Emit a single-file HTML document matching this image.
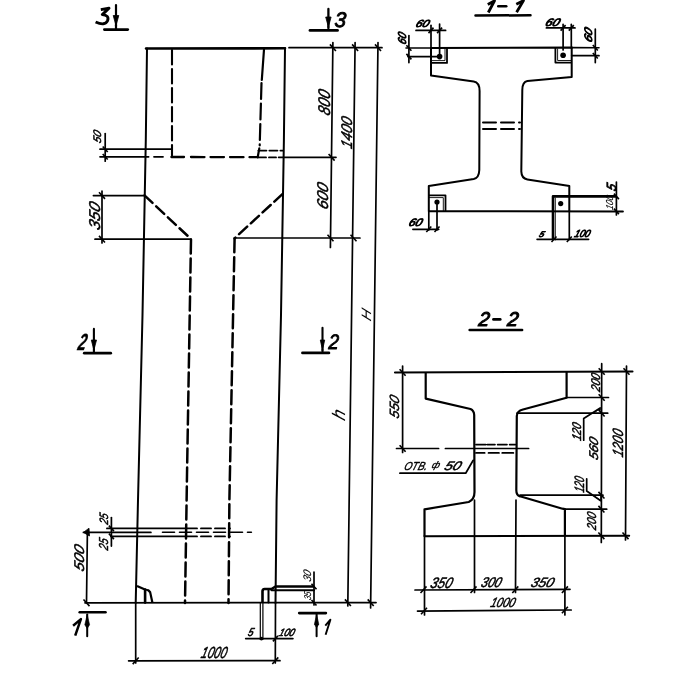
<!DOCTYPE html>
<html><head><meta charset="utf-8"><style>
html,body{margin:0;padding:0;background:#fff;width:700px;height:700px;overflow:hidden}
svg{display:block;will-change:transform}
text{font-family:"Liberation Sans",sans-serif;font-style:italic;fill:#000;stroke:none}
</style></head><body>
<svg width="700" height="700" viewBox="0 0 700 700">
<g fill="none" stroke="#000" stroke-linejoin="round">
<path d="M146,48.5 L285,48.3" stroke-width="2.6" stroke-linecap="round"/>
<path d="M147,48.5 L145.8,140 L142.5,315 L138,500 L135.7,603" stroke-width="2.0" stroke-linecap="round"/>
<path d="M135.7,603 L135.7,663" stroke-width="1.7" stroke-linecap="round"/>
<path d="M285,48.3 L283.9,140 L281,315 L276.6,500 L275.5,603" stroke-width="2.0" stroke-linecap="round"/>
<path d="M275.5,603 L275.3,663" stroke-width="1.7" stroke-linecap="round"/>
<path d="M85,602.8 L376,602.6" stroke-width="1.8" stroke-linecap="round"/>
<path d="M172,50 L172,155.5" stroke-width="2.1" stroke-dasharray="14.5 4.5" stroke-linecap="round"/>
<path d="M264,49.5 L261.8,80" stroke-width="2.2" stroke-linecap="round"/>
<path d="M261.5,83 L259.7,145.4" stroke-width="2.2" stroke-dasharray="16 4.5" stroke-linecap="round"/>
<path d="M259.3,148.4 L257.7,157.3" stroke-width="2.2" stroke-linecap="round"/>
<path d="M171.4,157 L184,157" stroke-width="2.3" stroke-linecap="round"/>
<path d="M191,157 L257,157.2" stroke-width="2.3" stroke-dasharray="13.5 6" stroke-linecap="round"/>
<path d="M154,156.8 L163,156.8" stroke-width="1.8" stroke-linecap="round"/>
<path d="M100,149.2 L172,149.2" stroke-width="1.7" stroke-linecap="round"/>
<path d="M100,156.8 L148.6,156.8" stroke-width="1.7" stroke-linecap="round"/>
<path d="M258.4,150.6 L283,150.6" stroke-width="1.9" stroke-dasharray="8 3" stroke-linecap="round"/>
<path d="M258,157.4 L276,157.4" stroke-width="1.9" stroke-dasharray="8 3" stroke-linecap="round"/>
<path d="M278.6,157.3 L336,157.3" stroke-width="1.7" stroke-linecap="round"/>
<path d="M105.2,133.6 L105.2,161.2" stroke-width="1.7" stroke-linecap="round"/>
<path d="M102.7,146.45 L107.7,151.95" stroke-width="1.6"/>
<path d="M102.7,154.05 L107.7,159.55" stroke-width="1.6"/>
<path d="M144.5,195.4 L191,239" stroke-width="2.5" stroke-dasharray="11 5" stroke-linecap="round"/>
<path d="M191,239.5 L187,475 L185,603" stroke-width="2.5" stroke-dasharray="14 5" stroke-linecap="round"/>
<path d="M282.4,194.1 L234.6,238.3" stroke-width="2.5" stroke-dasharray="11 5" stroke-linecap="round"/>
<path d="M234.6,238.3 L229.4,500 L228.5,603" stroke-width="2.5" stroke-dasharray="14 5" stroke-linecap="round"/>
<path d="M93.4,195.6 L145,195.6" stroke-width="1.7" stroke-linecap="round"/>
<path d="M95,239.2 L191,239.2" stroke-width="1.7" stroke-linecap="round"/>
<path d="M102,191 L102,243" stroke-width="1.7" stroke-linecap="round"/>
<path d="M99.0,192.29999999999998 L105.0,198.9" stroke-width="1.6"/>
<path d="M99.0,235.89999999999998 L105.0,242.5" stroke-width="1.6"/>
<path d="M235,238 L360,238" stroke-width="1.7" stroke-linecap="round"/>
<path d="M289,47.7 L382,47.7" stroke-width="1.7" stroke-linecap="round"/>
<path d="M332.9,42.6 L330.4,247.5" stroke-width="1.7" stroke-linecap="round"/>
<path d="M355.1,42.6 L347.8,606" stroke-width="1.7" stroke-linecap="round"/>
<path d="M378,42.6 L370.6,608" stroke-width="1.7" stroke-linecap="round"/>
<path d="M329.9,44.400000000000006 L335.9,51.0" stroke-width="1.6"/>
<path d="M352.1,44.400000000000006 L358.1,51.0" stroke-width="1.6"/>
<path d="M375.0,44.400000000000006 L381.0,51.0" stroke-width="1.6"/>
<path d="M328.6,154.0 L334.6,160.60000000000002" stroke-width="1.6"/>
<path d="M327.5,234.7 L333.5,241.3" stroke-width="1.6"/>
<path d="M350.5,234.7 L356.5,241.3" stroke-width="1.6"/>
<path d="M344.9,599.4000000000001 L350.9,606.0" stroke-width="1.6"/>
<path d="M367.7,599.4000000000001 L373.7,606.0" stroke-width="1.6"/>
<path d="M100.8,9.6 L109,8.2 L102.3,14.6 Q109.5,15.2 107.6,20.6 Q105,26.3 95.6,22" stroke-width="2.9"/>
<path d="M116,5.1 L116,25.5" stroke-width="2.2" stroke-linecap="round"/>
<path d="M113.2,15.5 L118.8,15.5 L116,25.5 Z" fill="#000" stroke-width="0.8"/>
<path d="M116,25.5 L116,29.6" stroke-width="2.2" stroke-linecap="round"/>
<path d="M104.3,29.6 L127.8,29.6" stroke-width="2.6" stroke-linecap="round"/>
<path d="M328.4,8.9 L328.4,27" stroke-width="2.3" stroke-linecap="round"/>
<path d="M325.7,17 L331.09999999999997,17 L328.4,27 Z" fill="#000" stroke-width="0.8"/>
<path d="M328.4,27 L328.4,30" stroke-width="2.1" stroke-linecap="round"/>
<path d="M310,30.4 L337.5,30.4" stroke-width="2.8" stroke-linecap="round"/>
<path d="M93.9,328.9 L93.9,350" stroke-width="2.1" stroke-linecap="round"/>
<path d="M91.30000000000001,340 L96.5,340 L93.9,350 Z" fill="#000" stroke-width="0.8"/>
<path d="M93.9,350 L93.9,352.9" stroke-width="2.1" stroke-linecap="round"/>
<path d="M84.3,353.2 L110.7,353.2" stroke-width="2.8" stroke-linecap="round"/>
<path d="M322.5,327.9 L322.5,350" stroke-width="2.1" stroke-linecap="round"/>
<path d="M320.3,340 L324.7,340 L322.5,350 Z" fill="#000" stroke-width="0.8"/>
<path d="M322.5,350 L322.5,352.1" stroke-width="2.1" stroke-linecap="round"/>
<path d="M302.5,352.9 L328.9,352.9" stroke-width="2.8" stroke-linecap="round"/>
<path d="M79.7,612.2 L105.5,612.2" stroke-width="2.6" stroke-linecap="round"/>
<path d="M87.2,614.6 L87.2,636.2" stroke-width="2.0" stroke-linecap="round"/>
<path d="M87.2,614.5 L89.6,624.8 L87.2,628.5 L84.8,624.8 Z" fill="#000" stroke-width="0.6"/>
<path d="M299.2,613.1 L325.9,613.1" stroke-width="2.6" stroke-linecap="round"/>
<path d="M316.6,614.6 L316.6,636.2" stroke-width="2.0" stroke-linecap="round"/>
<path d="M316.6,614.5 L318.8,624.2 L316.6,627.8 L314.4,624.2 Z" fill="#000" stroke-width="0.6"/>
<path d="M73.1,625.7 L80.9,619.1 L75.2,635.6" stroke-width="2.5"/>
<path d="M325.3,625.7 L330.4,619.7 L325.6,634.7" stroke-width="1.9"/>
<path d="M87.4,531.5 L86.5,603" stroke-width="1.7" stroke-linecap="round"/>
<path d="M83.4,532.4 L89,528.2 L89.5,536 Z" fill="#000" stroke-width="0.8"/>
<path d="M83.5,599.5 L89.5,606.0999999999999" stroke-width="1.6"/>
<path d="M83.4,532.4 L150.9,532.4" stroke-width="1.7" stroke-linecap="round"/>
<path d="M162.5,532.3 L251.4,532.3" stroke-width="1.6" stroke-dasharray="12 5" stroke-linecap="round"/>
<path d="M106.9,528.4 L185,528.4" stroke-width="1.7" stroke-linecap="round"/>
<path d="M187,528.4 L230,528.4" stroke-width="1.9" stroke-dasharray="10 4" stroke-linecap="round"/>
<path d="M110.9,536.4 L185,536.4" stroke-width="1.7" stroke-linecap="round"/>
<path d="M187,536.4 L230,536.4" stroke-width="1.9" stroke-dasharray="10 4" stroke-linecap="round"/>
<path d="M111.4,517.6 L111.4,546.1" stroke-width="1.7" stroke-linecap="round"/>
<path d="M108.9,525.65 L113.9,531.15" stroke-width="1.6"/>
<path d="M108.9,533.65 L113.9,539.15" stroke-width="1.6"/>
<path d="M137,585.9 L144.4,589.3 Q147,590 148.4,590.4 L150.1,592.1 L152.4,602.6" stroke-width="2.2"/>
<path d="M145.1,589.5 L145.1,602.6" stroke-width="2.6" stroke-linecap="round"/>
<path d="M262.5,602.6 L262.5,591 Q262.8,589 264.5,589 L271.5,589 L275.5,586.5 L314,586.5" stroke-width="2.6"/>
<path d="M271.5,590.2 L314,590.2" stroke-width="2.0" stroke-linecap="round"/>
<path d="M268.5,590 L268.5,602.6" stroke-width="2.0" stroke-linecap="round"/>
<path d="M314,572 L314,605" stroke-width="1.7" stroke-linecap="round"/>
<path d="M311.5,583.75 L316.5,589.25" stroke-width="1.6"/>
<path d="M311.5,599.95 L316.5,605.45" stroke-width="1.6"/>
<path d="M260.3,603 L260.3,639.3" stroke-width="1.2" stroke-linecap="round"/>
<path d="M262.9,603 L262.9,639.3" stroke-width="1.2" stroke-linecap="round"/>
<path d="M245.7,638.6 L292.9,638.6" stroke-width="1.7" stroke-linecap="round"/>
<circle cx="261.4" cy="638.6" r="1.9" fill="#000" stroke="none"/>
<path d="M272.9,641.35 L277.9,635.85" stroke-width="1.6"/>
<path d="M128.6,660.8 L280,660.7" stroke-width="1.7" stroke-linecap="round"/>
<path d="M132.7,664.0999999999999 L138.7,657.5" stroke-width="1.6"/>
<path d="M272.3,664.0 L278.3,657.4000000000001" stroke-width="1.6"/>
<path d="M487.8,4.5 L494.5,0.8 L488.3,12.5" stroke-width="2.8"/>
<path d="M498.3,6.2 L506.2,6.2" stroke-width="2.6" stroke-linecap="round"/>
<path d="M516.3,4.3 L523.5,0.6 L516.6,12.2" stroke-width="2.8"/>
<path d="M475.5,15.5 L530.5,15.3" stroke-width="2.5" stroke-linecap="round"/>
<path d="M406,48 L431,48" stroke-width="1.6" stroke-linecap="round"/>
<path d="M431,48 L572,47.6" stroke-width="2.1" stroke-linecap="round"/>
<path d="M572,47.6 L599,47.7" stroke-width="1.6" stroke-linecap="round"/>
<path d="M431,48 L431,75.5 L473.7,81.6 Q479.5,82.5 479.6,91 L479.3,170 Q479,178 473.7,179 L428.8,186 L428.8,211" stroke-width="2.0"/>
<path d="M571.7,47.6 L571.7,77 L527.4,81 Q522.3,82 522.3,90 L521.3,171.4 Q521.5,178.5 527.4,179.4 L567.9,185.7 L569.3,186 L569.3,211.4" stroke-width="2.0"/>
<path d="M428.8,211.2 L622.9,211.4" stroke-width="2.0" stroke-linecap="round"/>
<path d="M483,122.5 L520,122.5" stroke-width="2.0" stroke-dasharray="13 5" stroke-linecap="round"/>
<path d="M483,129 L520,129" stroke-width="2.0" stroke-dasharray="13 5" stroke-linecap="round"/>
<path d="M431.8,62.9 L447,62.9 L447,48" stroke-width="1.8"/>
<path d="M432,60.6 L445,60.6 L445,48" stroke-width="0.9"/>
<path d="M555.4,48 L555.4,62.6 L571.5,62.6" stroke-width="1.8"/>
<path d="M557.6,48.5 L557.6,60.5 L571.5,60.5" stroke-width="0.9"/>
<circle cx="439.6" cy="56.6" r="2.8" fill="#000" stroke="none"/>
<circle cx="563.1" cy="55.3" r="2.8" fill="#000" stroke="none"/>
<path d="M407.9,56.6 L439.6,56.6" stroke-width="1.7" stroke-linecap="round"/>
<path d="M571.7,55.7 L599,55.7" stroke-width="1.7" stroke-linecap="round"/>
<path d="M428.8,195.3 L445.5,195.3 L445.5,211" stroke-width="1.8"/>
<path d="M429,197.6 L443.3,197.6 L443.3,211" stroke-width="0.9"/>
<path d="M553,240 L553,196.4 L617,196.4" stroke-width="2.6"/>
<path d="M555.3,198 L555.3,240" stroke-width="0.9" stroke-linecap="round"/>
<circle cx="437" cy="202" r="2.6" fill="#000" stroke="none"/>
<circle cx="560.7" cy="203.6" r="2.6" fill="#000" stroke="none"/>
<path d="M416,30.4 L445.6,30.4" stroke-width="1.7" stroke-linecap="round"/>
<path d="M431,25.3 L431,48" stroke-width="1.7" stroke-linecap="round"/>
<path d="M439.6,24 L439.6,56" stroke-width="1.7" stroke-linecap="round"/>
<path d="M428.5,33.15 L433.5,27.65" stroke-width="1.6"/>
<path d="M437.1,33.15 L442.1,27.65" stroke-width="1.6"/>
<path d="M408.9,35.6 L408.9,62.6" stroke-width="1.7" stroke-linecap="round"/>
<path d="M406.4,45.25 L411.4,50.75" stroke-width="1.6"/>
<path d="M406.4,53.85 L411.4,59.35" stroke-width="1.6"/>
<path d="M546.4,27.9 L575,27.9" stroke-width="1.7" stroke-linecap="round"/>
<path d="M563.1,24.4 L563.1,50" stroke-width="1.7" stroke-linecap="round"/>
<path d="M571.3,24.4 L571.3,48" stroke-width="1.7" stroke-linecap="round"/>
<path d="M560.6,30.65 L565.6,25.15" stroke-width="1.6"/>
<path d="M568.8,30.65 L573.8,25.15" stroke-width="1.6"/>
<path d="M595.3,29.1 L595.3,62.6" stroke-width="1.7" stroke-linecap="round"/>
<path d="M592.8,44.95 L597.8,50.45" stroke-width="1.6"/>
<path d="M592.8,52.95 L597.8,58.45" stroke-width="1.6"/>
<path d="M428.8,211 L428.8,230" stroke-width="1.7" stroke-linecap="round"/>
<path d="M437,202 L437,230" stroke-width="1.7" stroke-linecap="round"/>
<path d="M412.9,229.3 L438.7,229.3" stroke-width="1.7" stroke-linecap="round"/>
<path d="M426.3,232.05 L431.3,226.55" stroke-width="1.6"/>
<path d="M434.5,232.05 L439.5,226.55" stroke-width="1.6"/>
<path d="M569.3,211 L569.3,239.3" stroke-width="1.7" stroke-linecap="round"/>
<path d="M537.1,239.3 L588.6,239.3" stroke-width="1.7" stroke-linecap="round"/>
<path d="M551.5,242.05 L556.5,236.55" stroke-width="1.6"/>
<path d="M566.8,242.05 L571.8,236.55" stroke-width="1.6"/>
<path d="M616.4,182 L616.4,215" stroke-width="1.7" stroke-linecap="round"/>
<path d="M613.9,193.65 L618.9,199.15" stroke-width="1.6"/>
<path d="M613.9,208.65 L618.9,214.15" stroke-width="1.6"/>
<path d="M469.6,330 L522.1,330" stroke-width="2.5" stroke-linecap="round"/>
<path d="M395,372.5 L632.5,371.5" stroke-width="2.1" stroke-linecap="round"/>
<path d="M425.7,372.5 L425.7,398.6 L470.5,409 Q474,410.5 474.2,415 L474.5,492 Q474.5,499.5 468.7,502 L424.5,509.3 L424.5,536.3" stroke-width="2.2"/>
<path d="M566.6,371.5 L566.6,397.7 L523,409.5 Q517,411 516.8,416 L516.3,490 Q516.3,495.5 520,496.3 L562.5,508.7 L564.9,509.2 L564.9,535.8" stroke-width="2.2"/>
<path d="M424.5,536.2 L629.2,535.8" stroke-width="2.0" stroke-linecap="round"/>
<path d="M476,444.6 L515.4,444.6" stroke-width="1.9" stroke-dasharray="9.7 1.7 7.5 2.8 9.2 2.8" stroke-linecap="round"/>
<path d="M476,452.9 L515.4,452.9" stroke-width="1.9" stroke-dasharray="8.6 4 10.3 3.4 11" stroke-linecap="round"/>
<path d="M402.6,366 L402.6,452.5" stroke-width="1.7" stroke-linecap="round"/>
<path d="M399.6,369.2 L405.6,375.8" stroke-width="1.6"/>
<path d="M399.6,445.2 L405.6,451.8" stroke-width="1.6"/>
<path d="M396.5,448.5 L438.6,448.5" stroke-width="1.7" stroke-linecap="round"/>
<path d="M445.4,448.5 L528.6,448.5" stroke-width="1.7" stroke-linecap="round"/>
<path d="M399.9,473.2 L465.7,473.2 L473.2,460.3" stroke-width="1.7" stroke-linecap="round"/>
<path d="M566.6,397.5 L608.5,397.5" stroke-width="1.7" stroke-linecap="round"/>
<path d="M517,413.2 L607.7,413.2" stroke-width="1.7" stroke-linecap="round"/>
<path d="M520,495.2 L603,495.2" stroke-width="1.7" stroke-linecap="round"/>
<path d="M564.9,509.2 L606.7,509.2" stroke-width="1.7" stroke-linecap="round"/>
<path d="M601.7,363.7 L601.3,542.5" stroke-width="1.7" stroke-linecap="round"/>
<path d="M626.5,366 L625.5,540" stroke-width="1.7" stroke-linecap="round"/>
<path d="M598.701,368.2 L604.701,374.8" stroke-width="1.6"/>
<path d="M598.649,394.2 L604.649,400.8" stroke-width="1.6"/>
<path d="M598.6176,409.9 L604.6176,416.5" stroke-width="1.6"/>
<path d="M598.4536,491.9 L604.4536,498.5" stroke-width="1.6"/>
<path d="M598.4256,505.9 L604.4256,512.5" stroke-width="1.6"/>
<path d="M598.3724000000001,532.5 L604.3724000000001,539.0999999999999" stroke-width="1.6"/>
<path d="M623.5,368.2 L629.5,374.8" stroke-width="1.6"/>
<path d="M622.5,532.5 L628.5,539.0999999999999" stroke-width="1.6"/>
<path d="M583.7,440.2 L583.7,418.5 L600.2,408" stroke-width="1.7" stroke-linecap="round"/>
<path d="M594,413 Q598,409 601,409 L601,413" stroke-width="1.0"/>
<path d="M586.7,478.8 L586.7,491 L600.7,500.7" stroke-width="1.7" stroke-linecap="round"/>
<path d="M594,496 L600.7,500.7 L600.7,495.5" stroke-width="1.0"/>
<path d="M424.5,536 L424.5,615" stroke-width="1.7" stroke-linecap="round"/>
<path d="M474.5,500 L474.5,592.5" stroke-width="1.7" stroke-linecap="round"/>
<path d="M516,500 L515.5,592.5" stroke-width="1.7" stroke-linecap="round"/>
<path d="M564.9,535 L564.9,615" stroke-width="1.7" stroke-linecap="round"/>
<path d="M415,590 L570,589.3" stroke-width="1.7" stroke-linecap="round"/>
<path d="M417.5,611.1 L571.2,610" stroke-width="1.7" stroke-linecap="round"/>
<path d="M420.5,593.0 L426.5,586.4000000000001" stroke-width="1.6"/>
<path d="M470.5,593.0 L476.5,586.4000000000001" stroke-width="1.6"/>
<path d="M512.3,593.0 L518.3,586.4000000000001" stroke-width="1.6"/>
<path d="M561.9,593.0 L567.9,586.4000000000001" stroke-width="1.6"/>
<path d="M421.0,614.3 L427.0,607.7" stroke-width="1.6"/>
<path d="M561.9,613.3 L567.9,606.7" stroke-width="1.6"/>
<path d="M493.5,319.4 L500.2,319.4" stroke-width="2.8" stroke-linecap="round"/>
<text transform="translate(334.18,26.59) scale(0.973,1) skewX(-4)" font-size="21.13" font-weight="normal" style="stroke:#000;stroke-width:0.900px">3</text>
<text transform="translate(101.09,143.87) rotate(-90) scale(0.992,1) skewX(-20)" font-size="10.99" font-weight="normal" style="stroke:#000;stroke-width:0.500px">50</text>
<text transform="translate(330.33,116.18) rotate(-90) scale(0.869,1) skewX(-20)" font-size="16.90" font-weight="normal" style="stroke:#000;stroke-width:0.500px">800</text>
<text transform="translate(352.35,149.42) rotate(-90) scale(0.895,1) skewX(-20)" font-size="15.49" font-weight="normal" style="stroke:#000;stroke-width:0.500px">1400</text>
<text transform="translate(328.24,210.24) rotate(-90) scale(0.980,1) skewX(-20)" font-size="15.63" font-weight="normal" style="stroke:#000;stroke-width:0.500px">600</text>
<text transform="translate(99.54,230.88) rotate(-90) scale(1.023,1) skewX(-20)" font-size="15.63" font-weight="normal" style="stroke:#000;stroke-width:0.500px">350</text>
<text transform="translate(370.50,321.85) rotate(-90) scale(1.105,1) skewX(-20)" font-size="13.48" font-weight="normal" style="stroke:#000;stroke-width:0.100px">H</text>
<text transform="translate(344.50,421.14) rotate(-90) scale(0.946,1) skewX(-20)" font-size="18.06" font-weight="normal" style="stroke:#000;stroke-width:0.100px">h</text>
<text transform="translate(76.95,350.00) scale(0.623,1) skewX(-20)" font-size="23.43" font-weight="bold" style="stroke:#000;stroke-width:0.400px">2</text>
<text transform="translate(328.20,349.30) scale(0.878,1) skewX(-4)" font-size="21.00" font-weight="normal" style="stroke:#000;stroke-width:0.900px">2</text>
<text transform="translate(108.48,525.00) rotate(-90) scale(0.795,1) skewX(-20)" font-size="12.11" font-weight="normal" style="stroke:#000;stroke-width:0.500px">25</text>
<text transform="translate(108.47,550.70) rotate(-90) scale(0.777,1) skewX(-20)" font-size="12.96" font-weight="normal" style="stroke:#000;stroke-width:0.500px">25</text>
<text transform="translate(83.86,572.22) rotate(-90) scale(1.083,1) skewX(-20)" font-size="14.08" font-weight="normal" style="stroke:#000;stroke-width:0.500px">500</text>
<text transform="translate(247.23,636.19) scale(0.839,1) skewX(-20)" font-size="11.43" font-weight="normal" style="stroke:#000;stroke-width:0.700px">5</text>
<text transform="translate(278.22,636.19) scale(0.884,1) skewX(-20)" font-size="10.56" font-weight="normal" style="stroke:#000;stroke-width:0.600px">100</text>
<text transform="translate(200.36,658.04) scale(0.712,1) skewX(-20)" font-size="16.06" font-weight="normal" style="stroke:#000;stroke-width:0.500px">1000</text>
<text transform="translate(311.29,582.19) rotate(-90) scale(0.903,1) skewX(-20)" font-size="10.99" font-weight="normal" style="stroke:#000;stroke-width:0.100px">30</text>
<text transform="translate(310.60,600.58) rotate(-90) scale(0.727,1) skewX(-20)" font-size="10.00" font-weight="normal" style="stroke:#000;stroke-width:0.100px">35</text>
<text transform="translate(415.01,27.30) scale(1.129,1) skewX(-20)" font-size="10.28" font-weight="normal" style="stroke:#000;stroke-width:0.900px">60</text>
<text transform="translate(405.59,44.92) rotate(-90) scale(0.891,1) skewX(-20)" font-size="11.41" font-weight="normal" style="stroke:#000;stroke-width:0.900px">60</text>
<text transform="translate(544.52,25.99) scale(1.141,1) skewX(-20)" font-size="10.85" font-weight="normal" style="stroke:#000;stroke-width:0.900px">60</text>
<text transform="translate(592.19,43.08) rotate(-90) scale(1.141,1) skewX(-20)" font-size="10.85" font-weight="normal" style="stroke:#000;stroke-width:0.900px">60</text>
<text transform="translate(408.01,226.29) scale(1.071,1) skewX(-20)" font-size="10.85" font-weight="normal" style="stroke:#000;stroke-width:0.900px">60</text>
<text transform="translate(538.60,237.02) scale(1.077,1) skewX(-20)" font-size="8.14" font-weight="normal" style="stroke:#000;stroke-width:0.900px">5</text>
<text transform="translate(573.72,236.70) scale(0.908,1) skewX(-20)" font-size="10.28" font-weight="normal" style="stroke:#000;stroke-width:0.900px">100</text>
<text transform="translate(615.57,191.64) rotate(-90) scale(0.887,1) skewX(-20)" font-size="13.29" font-weight="normal" style="stroke:#000;stroke-width:0.900px">5</text>
<text transform="translate(612.80,210.25) rotate(-90) scale(0.813,1) skewX(-20)" font-size="10.14" font-weight="normal" style="stroke:#000;stroke-width:0.100px">100</text>
<text transform="translate(478.00,325.90) scale(0.975,1) skewX(-8)" font-size="19.86" font-weight="normal" style="stroke:#000;stroke-width:1.100px">2</text>
<text transform="translate(506.80,325.90) scale(0.983,1) skewX(-8)" font-size="19.86" font-weight="normal" style="stroke:#000;stroke-width:1.100px">2</text>
<text transform="translate(399.07,419.27) rotate(-90) scale(1.001,1) skewX(-20)" font-size="13.38" font-weight="normal" style="stroke:#000;stroke-width:0.500px">550</text>
<text transform="translate(403.41,469.68) scale(0.858,1) skewX(-20)" font-size="11.55" font-weight="normal" style="stroke:#000;stroke-width:0.400px">ОТВ.</text>
<text transform="translate(431.26,468.49) scale(0.961,1) skewX(-20)" font-size="9.57" font-weight="normal" style="stroke:#000;stroke-width:0.400px">ф</text>
<text transform="translate(443.55,469.68) scale(1.164,1) skewX(-20)" font-size="12.39" font-weight="normal" style="stroke:#000;stroke-width:0.500px">50</text>
<text transform="translate(600.07,392.20) rotate(-90) scale(0.832,1) skewX(-20)" font-size="12.68" font-weight="normal" style="stroke:#000;stroke-width:0.500px">200</text>
<text transform="translate(581.37,441.31) rotate(-90) scale(0.815,1) skewX(-20)" font-size="12.68" font-weight="normal" style="stroke:#000;stroke-width:0.500px">120</text>
<text transform="translate(597.87,460.75) rotate(-90) scale(1.034,1) skewX(-20)" font-size="12.68" font-weight="normal" style="stroke:#000;stroke-width:0.500px">560</text>
<text transform="translate(622.55,457.87) rotate(-90) scale(0.832,1) skewX(-20)" font-size="14.79" font-weight="normal" style="stroke:#000;stroke-width:0.500px">1200</text>
<text transform="translate(583.56,493.08) rotate(-90) scale(0.684,1) skewX(-20)" font-size="13.66" font-weight="normal" style="stroke:#000;stroke-width:0.500px">120</text>
<text transform="translate(596.27,530.40) rotate(-90) scale(0.793,1) skewX(-20)" font-size="12.82" font-weight="normal" style="stroke:#000;stroke-width:0.500px">200</text>
<text transform="translate(429.57,587.55) scale(0.847,1) skewX(-20)" font-size="15.21" font-weight="normal" style="stroke:#000;stroke-width:0.500px">350</text>
<text transform="translate(480.24,587.36) scale(0.854,1) skewX(-20)" font-size="14.08" font-weight="normal" style="stroke:#000;stroke-width:0.500px">300</text>
<text transform="translate(530.12,586.87) scale(1.005,1) skewX(-20)" font-size="13.38" font-weight="normal" style="stroke:#000;stroke-width:0.500px">350</text>
<text transform="translate(489.67,607.37) scale(0.823,1) skewX(-20)" font-size="13.38" font-weight="normal" style="stroke:#000;stroke-width:0.500px">1000</text>
</g>
</svg>
</body></html>
